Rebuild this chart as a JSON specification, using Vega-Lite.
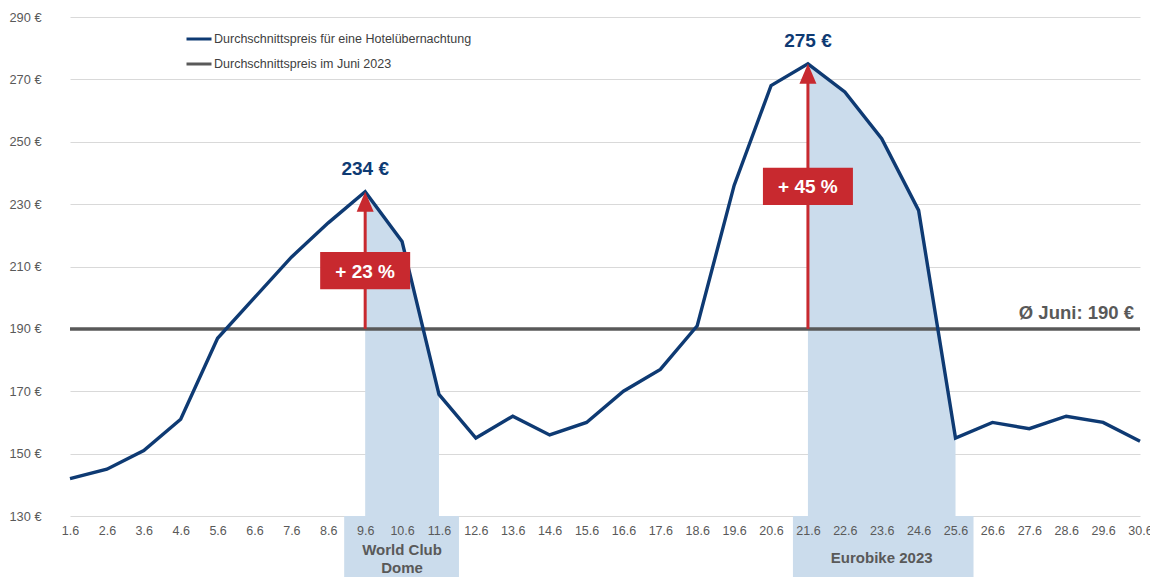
{
  "$schema": "https://vega.github.io/schema/vega-lite/v6.json",
  "width": 1098,
  "height": 499,
  "autosize": {"type": "none"},
  "padding": {"left": 52, "top": 17, "right": 0, "bottom": 61},
  "background": "white",
  "config": {"font": "Liberation Sans", "view": {"stroke": null}},
  "datasets": {
    "prices": [
      {"d": "1.6", "price": 142, "event": null},
      {"d": "2.6", "price": 145, "event": null},
      {"d": "3.6", "price": 151, "event": null},
      {"d": "4.6", "price": 161, "event": null},
      {"d": "5.6", "price": 187, "event": null},
      {"d": "6.6", "price": 200, "event": null},
      {"d": "7.6", "price": 213, "event": null},
      {"d": "8.6", "price": 224, "event": null},
      {"d": "9.6", "price": 234, "event": "World Club Dome"},
      {"d": "10.6", "price": 218, "event": "World Club Dome"},
      {"d": "11.6", "price": 169, "event": "World Club Dome"},
      {"d": "12.6", "price": 155, "event": null},
      {"d": "13.6", "price": 162, "event": null},
      {"d": "14.6", "price": 156, "event": null},
      {"d": "15.6", "price": 160, "event": null},
      {"d": "16.6", "price": 170, "event": null},
      {"d": "17.6", "price": 177, "event": null},
      {"d": "18.6", "price": 191, "event": null},
      {"d": "19.6", "price": 236, "event": null},
      {"d": "20.6", "price": 268, "event": null},
      {"d": "21.6", "price": 275, "event": "Eurobike 2023"},
      {"d": "22.6", "price": 266, "event": "Eurobike 2023"},
      {"d": "23.6", "price": 251, "event": "Eurobike 2023"},
      {"d": "24.6", "price": 228, "event": "Eurobike 2023"},
      {"d": "25.6", "price": 155, "event": "Eurobike 2023"},
      {"d": "26.6", "price": 160, "event": null},
      {"d": "27.6", "price": 158, "event": null},
      {"d": "28.6", "price": 162, "event": null},
      {"d": "29.6", "price": 160, "event": null},
      {"d": "30.6", "price": 154, "event": null}
    ],
    "events": [
      {"event": "World Club Dome", "name": "World Club\nDome", "start": "9.6", "end": "11.6", "mid": "10.6"},
      {"event": "Eurobike 2023", "name": "Eurobike 2023", "start": "21.6", "end": "25.6", "mid": "23.6"}
    ],
    "avg": [
      {"from": "1.6", "to": "30.6", "price": 190, "label": "Ø Juni: 190 €"}
    ],
    "peaks": [
      {"d": "9.6", "peak": 234, "base": 190, "peakLabel": "234 €", "pct": "+ 23 %", "boxY": 208.7},
      {"d": "21.6", "peak": 275, "base": 190, "peakLabel": "275 €", "pct": "+ 45 %", "boxY": 235.7}
    ]
  },
  "layer": [
    {
      "data": {"name": "prices"},
      "transform": [{"filter": "datum.event != null"}],
      "mark": {"type": "area", "color": "#cbdcec", "clip": false},
      "encoding": {
        "x": {
          "field": "d", "type": "ordinal",
          "scale": {"type": "point", "domain": ["1.6","2.6","3.6","4.6","5.6","6.6","7.6","8.6","9.6","10.6","11.6","12.6","13.6","14.6","15.6","16.6","17.6","18.6","19.6","20.6","21.6","22.6","23.6","24.6","25.6","26.6","27.6","28.6","29.6","30.6"], "range": [18, 1088], "padding": 0},
          "axis": {"title": null, "labelAngle": 0, "ticks": false, "domain": false, "grid": false, "labelPadding": 8, "labelFontSize": 12.5, "labelColor": "#595959", "zindex": 1}
        },
        "y": {
          "field": "price", "type": "quantitative",
          "scale": {"domain": [130, 290], "nice": false, "zero": false},
          "axis": {"title": null, "values": [130,150,170,190,210,230,250,270,290], "labelExpr": "datum.value + ' €'", "ticks": false, "domain": false, "grid": true, "gridColor": "#d9d9d9", "gridWidth": 1, "labelPadding": 11, "labelFontSize": 12.8, "labelColor": "#595959", "zindex": 0}
        },
        "y2": {"datum": 130},
        "detail": {"field": "event"}
      }
    },
    {
      "data": {"name": "events"},
      "transform": [{"filter": "datum.event == 'World Club Dome'"}],
      "mark": {"type": "rect", "color": "#cbdcec", "xOffset": -21, "x2Offset": 20, "clip": false},
      "encoding": {
        "x": {"field": "start", "type": "ordinal"},
        "x2": {"field": "end"},
        "y": {"datum": 130},
        "y2": {"datum": 110}
      }
    },
    {
      "data": {"name": "events"},
      "transform": [{"filter": "datum.event == 'Eurobike 2023'"}],
      "mark": {"type": "rect", "color": "#cbdcec", "xOffset": -15, "x2Offset": 18, "clip": false},
      "encoding": {
        "x": {"field": "start", "type": "ordinal"},
        "x2": {"field": "end"},
        "y": {"datum": 130},
        "y2": {"datum": 110}
      }
    },
    {
      "data": {"name": "events"},
      "transform": [{"filter": "datum.event == 'World Club Dome'"}],
      "mark": {"type": "text", "fontSize": 15, "fontWeight": "bold", "color": "#595959", "baseline": "middle", "align": "center", "lineBreak": "\n", "lineHeight": 17.5, "dy": 34, "clip": false},
      "encoding": {
        "x": {"field": "mid", "type": "ordinal"},
        "y": {"datum": 130},
        "text": {"field": "name"}
      }
    },
    {
      "data": {"name": "events"},
      "transform": [{"filter": "datum.event == 'Eurobike 2023'"}],
      "mark": {"type": "text", "fontSize": 15, "fontWeight": "bold", "color": "#595959", "baseline": "middle", "align": "center", "dy": 42, "clip": false},
      "encoding": {
        "x": {"field": "mid", "type": "ordinal"},
        "y": {"datum": 130},
        "text": {"field": "name"}
      }
    },
    {
      "data": {"name": "avg"},
      "mark": {"type": "rule", "strokeWidth": 3.5},
      "encoding": {
        "x": {"field": "from", "type": "ordinal"},
        "x2": {"field": "to"},
        "y": {"field": "price", "type": "quantitative"},
        "color": {"datum": "Durchschnittspreis im Juni 2023"}
      }
    },
    {
      "data": {"name": "prices"},
      "mark": {"type": "line", "strokeWidth": 3.4, "strokeJoin": "miter"},
      "encoding": {
        "x": {"field": "d", "type": "ordinal"},
        "y": {"field": "price", "type": "quantitative"},
        "color": {
          "datum": "Durchschnittspreis für eine Hotelübernachtung",
          "scale": {"domain": ["Durchschnittspreis für eine Hotelübernachtung", "Durchschnittspreis im Juni 2023"], "range": ["#0e3a73", "#595959"]},
          "legend": {"title": null, "orient": "none", "legendX": 133, "legendY": 8, "symbolType": "stroke", "symbolStrokeWidth": 3, "symbolSize": 625, "rowPadding": 4, "labelOffset": 1, "labelFontSize": 12.5, "labelColor": "#404040", "labelLimit": 0, "padding": 0}
        }
      }
    },
    {
      "data": {"name": "avg"},
      "mark": {"type": "text", "fontSize": 18.5, "fontWeight": "bold", "color": "#595959", "align": "right", "baseline": "middle", "dx": -6, "dy": -16},
      "encoding": {
        "x": {"field": "to", "type": "ordinal"},
        "y": {"field": "price", "type": "quantitative"},
        "text": {"field": "label"}
      }
    },
    {
      "data": {"name": "peaks"},
      "mark": {"type": "rule", "color": "#c8292f", "strokeWidth": 3, "y2Offset": 12},
      "encoding": {
        "x": {"field": "d", "type": "ordinal"},
        "y": {"field": "base", "type": "quantitative"},
        "y2": {"field": "peak"}
      }
    },
    {
      "data": {"name": "peaks"},
      "mark": {"type": "point", "shape": "M0,-1L-0.85,1L0.85,1Z", "size": 400, "filled": true, "color": "#c8292f", "opacity": 1, "yOffset": 10},
      "encoding": {
        "x": {"field": "d", "type": "ordinal"},
        "y": {"field": "peak", "type": "quantitative"}
      }
    },
    {
      "data": {"name": "peaks"},
      "mark": {"type": "point", "shape": "M-1.5,-0.62L1.5,-0.62L1.5,0.62L-1.5,0.62Z", "size": 3600, "filled": true, "color": "#c8292f", "opacity": 1},
      "encoding": {
        "x": {"field": "d", "type": "ordinal"},
        "y": {"field": "boxY", "type": "quantitative"}
      }
    },
    {
      "data": {"name": "peaks"},
      "mark": {"type": "text", "fontSize": 19, "fontWeight": "bold", "color": "white", "align": "center", "baseline": "middle", "dy": 1},
      "encoding": {
        "x": {"field": "d", "type": "ordinal"},
        "y": {"field": "boxY", "type": "quantitative"},
        "text": {"field": "pct"}
      }
    },
    {
      "data": {"name": "peaks"},
      "mark": {"type": "text", "fontSize": 19, "fontWeight": "bold", "color": "#0e3a73", "align": "center", "baseline": "middle", "dy": -23},
      "encoding": {
        "x": {"field": "d", "type": "ordinal"},
        "y": {"field": "peak", "type": "quantitative"},
        "text": {"field": "peakLabel"}
      }
    }
  ]
}
